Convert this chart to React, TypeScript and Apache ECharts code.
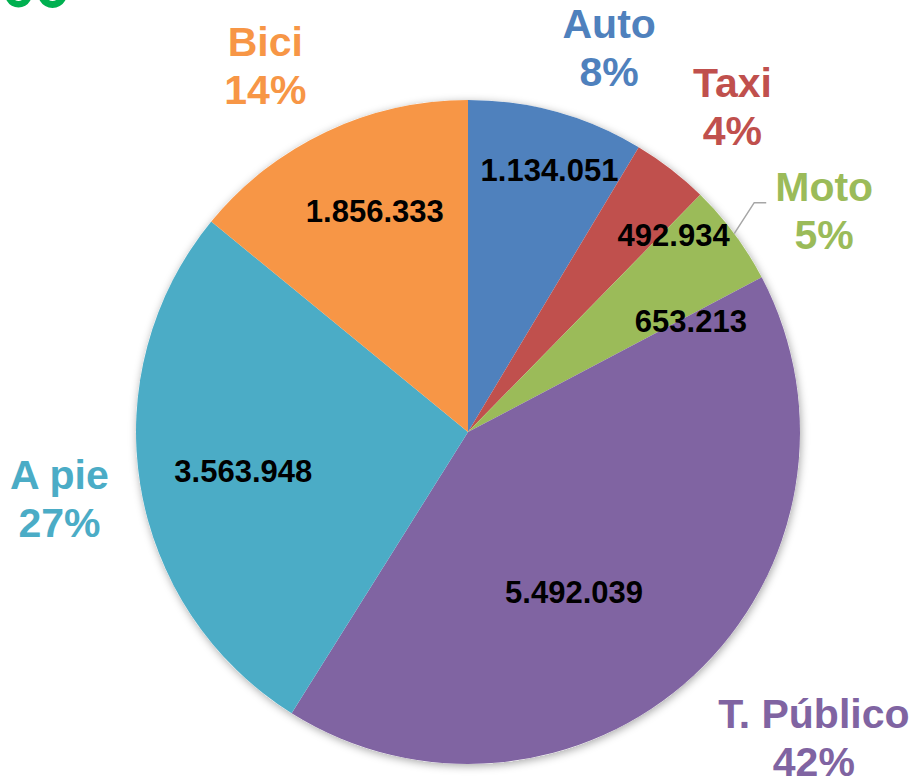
import React, { useEffect, useRef } from "react";
import * as echarts from "echarts";

const categories = ["Auto", "Taxi", "Moto", "T. Público", "A pie", "Bici"];
const trips = [1134051, 492934, 653213, 5492039, 3563948, 1856333];
const percentLabels = ["8%", "4%", "5%", "42%", "27%", "14%"];
const sliceColors = ["#4F81BD", "#C0504D", "#9BBB59", "#8064A2", "#4BACC6", "#F79646"];

// layout / style constants
const CX = 468;
const CY = 432;
const R = 332;
const FONT = "'Liberation Sans', Arial, sans-serif";
const outerShift = [
  [31, 14], [12, 2], [25, 26], [65, 3], [-1, 0], [-26, 7],
];
const innerShift = [
  [14, -18], [51, 4], [20, 41], [-66, -25], [25, -1], [15, 8],
];

const fmt = (v: number) => String(v).replace(/\B(?=(\d{3})+(?!\d))/g, ".");

export default function App() {
  const ref = useRef<HTMLDivElement>(null);
  useEffect(() => {
    if (!ref.current) return;
    const chart = echarts.init(ref.current, null, { renderer: "svg" });
    const total = trips.reduce((a, b) => a + b, 0);
    // leader line for Moto derived from the slice's mid angle
    const motoIdx = 2;
    let cum = 0;
    for (let i = 0; i < motoIdx; i++) cum += trips[i];
    const mid = ((cum + trips[motoIdx] / 2) / total) * Math.PI * 2;
    const sx = CX + R * Math.sin(mid);
    const sy = CY - R * Math.cos(mid);
    const data = categories.map((name, i) => ({
      name,
      value: trips[i],
      itemStyle: { color: sliceColors[i] },
    }));
    chart.setOption({
      animation: false,
      backgroundColor: "#ffffff",
      graphic: [
        { type: "ring", shape: { cx: 18.5, cy: -6, r: 13.5, r0: 7 }, style: { fill: "#00B050" } },
        { type: "ring", shape: { cx: 52.5, cy: -6.5, r: 14.5, r0: 7.5 }, style: { fill: "#00B050" } },
        {
          type: "polyline",
          z: 10,
          shape: { points: [[sx, sy], [sx + 20, sy - 31], [sx + 32, sy - 31]] },
          style: { stroke: "#A6A6A6", lineWidth: 1.5, fill: null },
        },
      ],
      series: [
        {
          type: "pie",
          z: 1,
          silent: true,
          center: [CX, CY],
          radius: R,
          label: { show: false },
          labelLine: { show: false },
          emphasis: { disabled: true },
          itemStyle: {
            color: "#ffffff",
            borderWidth: 0,
            shadowBlur: 9,
            shadowColor: "rgba(0,0,0,0.35)",
            shadowOffsetX: 1,
            shadowOffsetY: 2,
          },
          data: [{ value: 1, name: "bg" }],
        },
        {
          type: "pie",
          z: 2,
          silent: true,
          center: [CX, CY],
          radius: R,
          startAngle: 90,
          clockwise: true,
          label: { show: false },
          labelLine: { show: false },
          emphasis: { disabled: true },
          itemStyle: { borderWidth: 0 },
          data,
        },
        {
          type: "pie",
          z: 3,
          silent: true,
          center: [CX, CY],
          radius: [0, 500],
          startAngle: 90,
          clockwise: true,
          avoidLabelOverlap: false,
          emphasis: { disabled: true },
          itemStyle: { color: "transparent", borderWidth: 0 },
          labelLine: { show: false },
          label: {
            show: true,
            position: "inside",
            formatter: (p: any) => fmt(p.value),
            color: "#000000",
            fontFamily: FONT,
            fontWeight: "bold",
            fontSize: 31,
          },
          labelLayout: (p: any) => ({ dx: innerShift[p.dataIndex][0], dy: innerShift[p.dataIndex][1] }),
          data: categories.map((name, i) => ({ name, value: trips[i] })),
        },
        {
          type: "pie",
          z: 3,
          silent: true,
          center: [CX, CY],
          radius: [0, 820],
          startAngle: 90,
          clockwise: true,
          avoidLabelOverlap: false,
          emphasis: { disabled: true },
          itemStyle: { color: "transparent", borderWidth: 0 },
          labelLine: { show: false },
          label: {
            show: true,
            position: "inside",
            formatter: (p: any) => `${p.name}\n${percentLabels[p.dataIndex]}`,
            fontFamily: FONT,
            fontWeight: "bold",
            fontSize: 41,
            lineHeight: 48,
            align: "center",
          },
          labelLayout: (p: any) => ({ dx: outerShift[p.dataIndex][0], dy: outerShift[p.dataIndex][1] }),
          data: categories.map((name, i) => ({
            name,
            value: trips[i],
            label: { color: sliceColors[i] },
          })),
        },
      ],
    });
    return () => chart.dispose();
  }, []);
  return (
    <div
      ref={ref}
      style={{ position: "absolute", left: 0, top: 0, width: 920, height: 782 }}
    />
  );
}
